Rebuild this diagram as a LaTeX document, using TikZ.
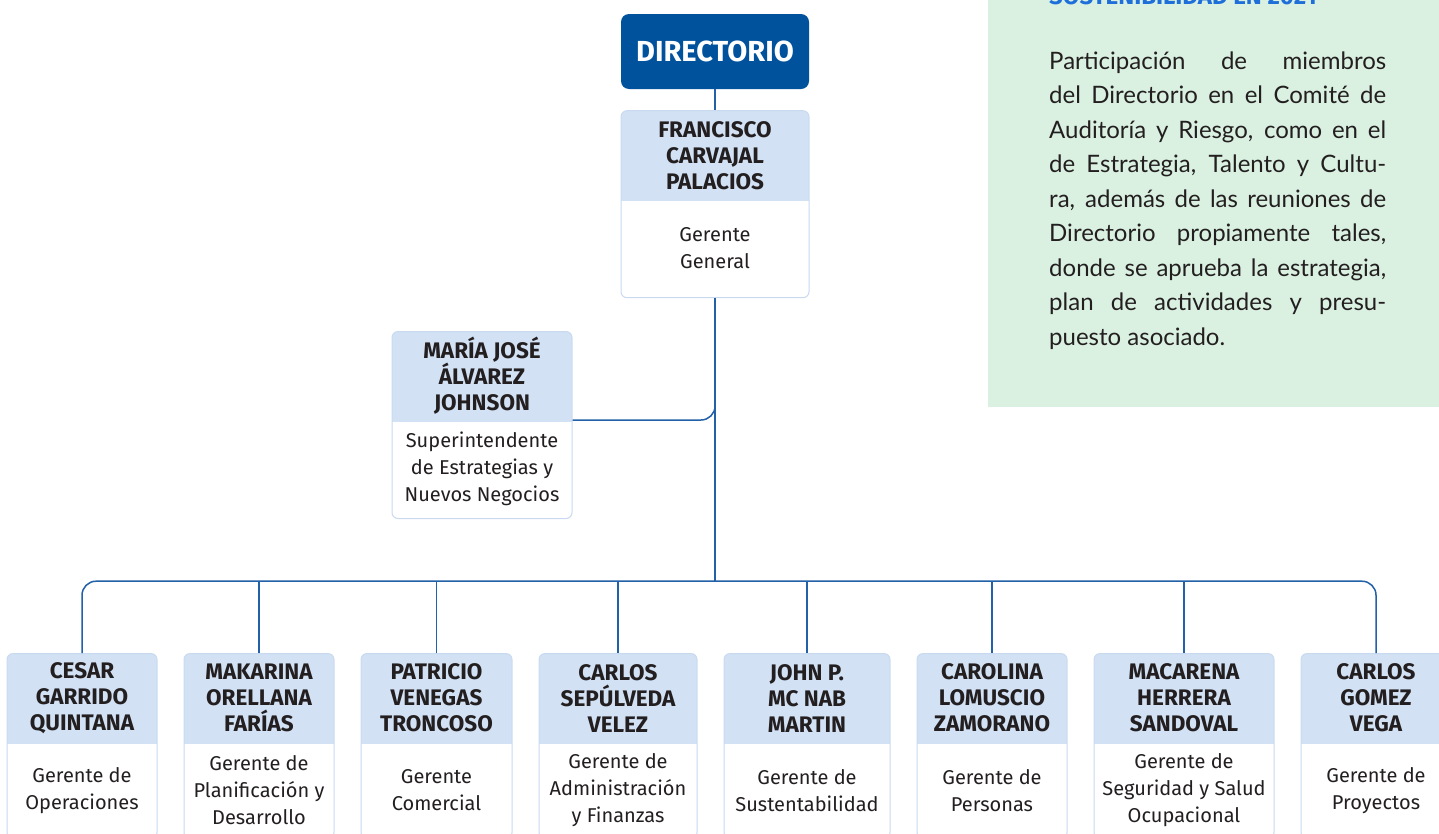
\documentclass[tikz,border=0pt]{standalone}
\usepackage{fontspec}
\setmainfont{Fira Sans}
\newfontfamily\panelfont{Lato}
\usepackage{tikz}
\usetikzlibrary{positioning}

\definecolor{navy}{HTML}{00529C}
\definecolor{hdr}{HTML}{D2E1F4}
\definecolor{edge}{HTML}{C9DAF0}
\definecolor{wire}{HTML}{2260A8}
\definecolor{ink}{HTML}{231F20}
\definecolor{mint}{HTML}{DAF1E1}
\definecolor{titleblue}{HTML}{1E6FD9}

\newcommand\whofont{\fontsize{22.5}{26}\selectfont\bfseries}
\newcommand\rolefont{\fontsize{20}{27}\selectfont}
\newcommand\jline[1]{\makebox[337pt][s]{#1}}

\begin{document}
\begin{tikzpicture}[x=1pt, y=-1pt,
card/.style={draw=edge, fill=white, line width=1pt, rounded corners=6pt, inner sep=0pt,
  path picture={\fill[hdr, sharp corners] (path picture bounding box.north west) rectangle ([yshift=-90pt]path picture bounding box.north east);}},
who/.style={font=\whofont, text=ink, align=center, inner sep=0pt},
role/.style={font=\rolefont, text=ink, align=center, inner sep=0pt},
link/.style={draw=wire, line width=1.5pt},
node distance=26pt]

\clip (0,0) rectangle (1439,833);

% panel on the right
\fill[mint] (988,0) rectangle (1439,407);
\node[anchor=base west, inner sep=0pt, font=\fontsize{24}{30}\selectfont\bfseries, text=titleblue] (ptitle) at (1049,4) {SOSTENIBILIDAD EN 2021};
\node[anchor=base west, inner sep=0pt, align=left, text=ink, font=\panelfont\fontsize{24}{34.5}\selectfont] (ptext) at (1049,345)
{\jline{Participación de miembros}\\
 \jline{del Directorio en el Comité de}\\
 \jline{Auditoría y Riesgo, como en el}\\
 \jline{de Estrategia, Talento y Cultu-}\\
 \jline{ra, además de las reuniones de}\\
 \jline{Directorio propiamente tales,}\\
 \jline{donde se aprueba la estrategia,}\\
 \jline{plan de actividades y presu-}\\
 puesto asociado.};

% top
\node[fill=navy, rounded corners=8pt, minimum width=188pt, minimum height=75pt, text=white,
  font=\fontsize{29}{32}\selectfont\bfseries] (dir) at (715,51.5) {DIRECTORIO};
\node[card, minimum width=188pt, minimum height=187pt, below=21pt of dir] (fran) {};
\node[who] (franN) at ([yshift=-45pt]fran.north) {FRANCISCO\\CARVAJAL\\PALACIOS};
\node[role] (franR) at ([yshift=-137.5pt]fran.north) {Gerente\\General};

\node[card, minimum width=180pt, minimum height=187pt, anchor=north] (mj) at (482,331) {};
\node[who] (mjN) at ([yshift=-45pt]mj.north) {MARÍA JOSÉ\\ÁLVAREZ\\JOHNSON};
\node[role] (mjR) at ([yshift=-137.5pt]mj.north) {Superintendente\\de Estrategias y\\Nuevos Negocios};

% gerentes
\node[card, minimum width=150pt, minimum height=185pt, anchor=north] (cesar) at (82,653) {};
\node[card, minimum width=150pt, minimum height=185pt, right=of cesar] (orell) {};
\node[card, minimum width=151pt, minimum height=185pt, right=of orell] (venegas) {};
\node[card, minimum width=158pt, minimum height=185pt, right=of venegas] (sepul) {};
\node[card, minimum width=166pt, minimum height=185pt, right=of sepul] (mcnab) {};
\node[card, minimum width=150pt, minimum height=185pt, right=of mcnab] (lomus) {};
\node[card, minimum width=180pt, minimum height=185pt, right=of lomus] (herrera) {};
\node[card, minimum width=150pt, minimum height=185pt, right=of herrera] (vega) {};

\node[who] (cesarN) at ([yshift=-45pt]cesar.north) {CESAR\\GARRIDO\\QUINTANA};
\node[role] (cesarR) at ([yshift=-137.5pt]cesar.north) {Gerente de\\Operaciones};
\node[who] (orellN) at ([yshift=-45pt]orell.north) {MAKARINA\\ORELLANA\\FARÍAS};
\node[role] (orellR) at ([yshift=-137.5pt]orell.north) {Gerente de\\Planificación y\\Desarrollo};
\node[who] (venegasN) at ([yshift=-45pt]venegas.north) {PATRICIO\\VENEGAS\\TRONCOSO};
\node[role] (venegasR) at ([yshift=-137.5pt]venegas.north) {Gerente\\Comercial};
\node[who] (sepulN) at ([yshift=-45pt]sepul.north) {CARLOS\\SEPÚLVEDA\\VELEZ};
\node[role] (sepulR) at ([yshift=-137.5pt]sepul.north) {Gerente de\\Administración\\y Finanzas};
\node[who] (mcnabN) at ([yshift=-45pt]mcnab.north) {JOHN P.\\MC NAB\\MARTIN};
\node[role] (mcnabR) at ([yshift=-137.5pt]mcnab.north) {Gerente de\\Sustentabilidad};
\node[who] (lomusN) at ([yshift=-45pt]lomus.north) {CAROLINA\\LOMUSCIO\\ZAMORANO};
\node[role] (lomusR) at ([yshift=-137.5pt]lomus.north) {Gerente de\\Personas};
\node[who] (herreraN) at ([yshift=-45pt]herrera.north) {MACARENA\\HERRERA\\SANDOVAL};
\node[role] (herreraR) at ([yshift=-137.5pt]herrera.north) {Gerente de\\Seguridad y Salud\\Ocupacional};
\node[who] (vegaN) at ([yshift=-45pt]vega.north) {CARLOS\\GOMEZ\\VEGA};
\node[role] (vegaR) at ([yshift=-137.5pt]vega.north) {Gerente de\\Proyectos};

% lines
\coordinate (bus) at ([yshift=-283pt]fran.south);
\draw[link] (dir.south) -- (fran.north);
\draw[link] (fran.south) -- (bus);
\draw[link, rounded corners=14pt] ([yshift=-89pt]mj.north east) -| (fran.south);
\draw[link, rounded corners=14pt] (cesar.north) |- (bus) -| (vega.north);
\foreach \p in {orell, venegas, sepul, mcnab, lomus, herrera}
  \draw[link] (\p.north) -- (\p.north |- bus);

\end{tikzpicture}
\end{document}
